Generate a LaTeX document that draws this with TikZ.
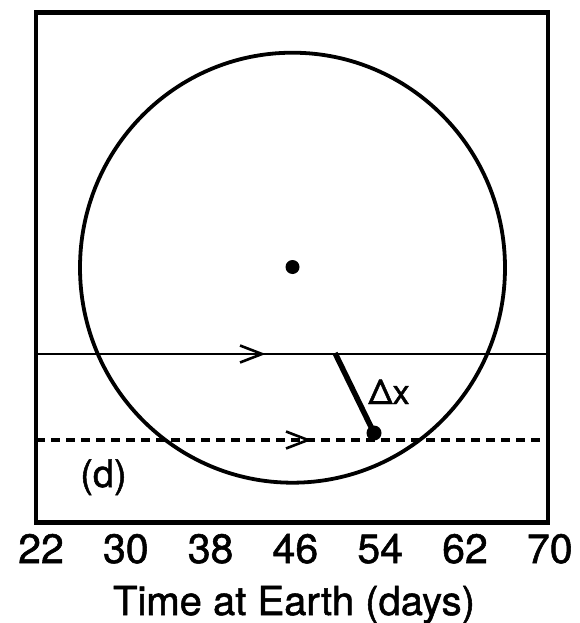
\documentclass[tikz,border=0pt]{standalone}
\usepackage{fontspec}
\setmainfont{TeX Gyre Heros}[FakeBold=1.3]
\begin{document}
\begin{tikzpicture}[x=1pt,y=-1pt,
  tick/.style={font=\fontsize{41}{41}\selectfont, anchor=base, inner sep=0pt},
  chevron/.style={line width=2.6pt, line join=miter},
  framestyle/.style={line width=4.6pt, line join=miter}]
\useasboundingbox (0,0) rectangle (579,623);
% frame
\draw[framestyle] (36,12.5) rectangle (548,522.5);
% circle and centre
\draw[line width=3.8pt] (292.5,267.7) ellipse [x radius=212.5pt, y radius=215pt];
\fill (292.5,267) circle [radius=7pt];
% solid trajectory
\coordinate (sL) at (36,354);
\coordinate (sR) at (548,354);
\draw[line width=2.8pt] (sL) -- (sR);
\draw[chevron] (240,345.5) -- (262,354) -- (240,362.5);
% dashed trajectory
\coordinate (dL) at (36,440);
\coordinate (dR) at (548,440);
\draw[line width=3.3pt, dash pattern=on 9pt off 6pt] (dL) -- (dR);
\draw[chevron] (286,431.5) -- (308,440) -- (286,448.5);
% displacement
\coordinate (dxA) at (335,353);
\coordinate (dxB) at (374,433);
\draw[line width=5.5pt] (dxA) -- (dxB);
\fill (dxB) circle [radius=7.5pt];
\node[font=\fontsize{34}{34}\selectfont, anchor=base, inner sep=0pt] (dxlab) at (389,404) {Δx};
% panel label
\node[font=\fontsize{38}{38}\selectfont, anchor=base, inner sep=0pt] (panel) at (103.5,487) {(d)};
% tick labels
\node[tick] (t22) at (41,563) {22};
\node[tick] (t30) at (125.8,563) {30};
\node[tick] (t38) at (210.6,563) {38};
\node[tick] (t46) at (295.4,563) {46};
\node[tick] (t54) at (380.2,563) {54};
\node[tick] (t62) at (465,563) {62};
\node[tick] (t70) at (549.8,563) {70};
% axis title
\node[font=\fontsize{40}{40}\selectfont, anchor=base, inner sep=0pt] (title) at (294,615) {Time at Earth (days)};
\end{tikzpicture}
\end{document}
